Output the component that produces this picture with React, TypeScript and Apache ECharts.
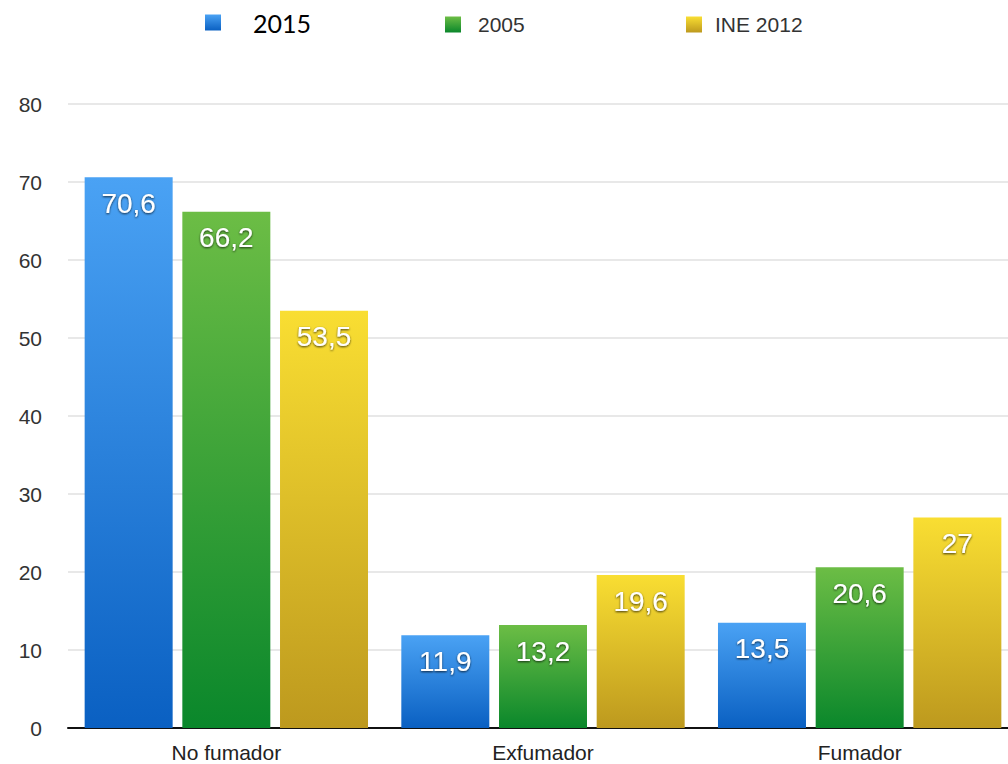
import React, { useEffect, useRef } from "react";
import * as echarts from "echarts";

const categories = ["No fumador", "Exfumador", "Fumador"];
const seriesNames = ["2015", "2005", "INE 2012"];
const values2015 = [70.6, 11.9, 13.5];
const values2005 = [66.2, 13.2, 20.6];
const valuesINE2012 = [53.5, 19.6, 27];

const grad = (top: string, bottom: string) =>
  new echarts.graphic.LinearGradient(0, 0, 0, 1, [
    { offset: 0, color: top },
    { offset: 1, color: bottom },
  ]);

export default function App() {
  const ref = useRef<HTMLDivElement>(null);
  useEffect(() => {
    if (!ref.current) return;
    const chart = echarts.init(ref.current, undefined, { renderer: "svg" });
    const colors = [
      grad("#4aa2f4", "#0a60c2"),
      grad("#6cbd45", "#0a872b"),
      grad("#f9de32", "#bd991e"),
    ];
    const dataSets = [values2015, values2005, valuesINE2012];
    const label = {
      show: true,
      position: "insideTop",
      distance: 12,
      color: "#ffffff",
      fontSize: 28,
      fontFamily: "Liberation Sans, Arial, sans-serif",
      textShadowColor: "rgba(0,0,0,0.75)",
      textShadowBlur: 2,
      textShadowOffsetX: 0,
      textShadowOffsetY: 1,
      formatter: (p: any) => String(p.value).replace(".", ","),
    };
    chart.setOption({
      animation: false,
      backgroundColor: "#ffffff",
      legend: [
        {
          data: [seriesNames[0]],
          left: 200,
          top: 5,
          icon: "rect",
          itemWidth: 16,
          itemHeight: 16,
          textStyle: { fontFamily: "Lato, sans-serif", fontSize: 25, color: "#000", padding: [2, 0, 0, 27] },
        },
        {
          data: [seriesNames[1]],
          left: 440,
          top: 9,
          icon: "rect",
          itemWidth: 16,
          itemHeight: 16,
          textStyle: { fontFamily: "Liberation Sans, Arial, sans-serif", fontSize: 21, color: "#333", padding: [0, 0, 0, 12] },
        },
        {
          data: [seriesNames[2]],
          left: 681,
          top: 9,
          icon: "rect",
          itemWidth: 16,
          itemHeight: 16,
          textStyle: { fontFamily: "Liberation Sans, Arial, sans-serif", fontSize: 21, color: "#333", padding: [0, 0, 0, 8] },
        },
      ],
      grid: { left: 68, top: 104, bottom: 36, width: 950, outerBoundsMode: "none", containLabel: false },
      xAxis: {
        type: "category",
        data: categories,
        axisLine: { lineStyle: { color: "#111", width: 2 } },
        axisTick: { show: false },
        axisLabel: { fontSize: 21, color: "#222", margin: 14, fontFamily: "Liberation Sans, Arial, sans-serif" },
      },
      yAxis: {
        type: "value",
        min: 0,
        max: 80,
        interval: 10,
        axisLine: { show: false },
        axisTick: { show: false },
        axisLabel: { fontSize: 21, color: "#333", margin: 26, fontFamily: "Liberation Sans, Arial, sans-serif" },
        splitLine: { lineStyle: { color: "#e8e8e8", width: 2 } },
      },
      series: seriesNames.map((name, i) => ({
        name,
        type: "bar",
        data: dataSets[i],
        barWidth: 88,
        barGap: "11%",
        itemStyle: { color: colors[i] },
        label,
      })),
    });
    return () => chart.dispose();
  }, []);
  return (
    <div
      ref={ref}
      style={{ position: "fixed", left: 0, top: 0, width: 1008, height: 764 }}
    />
  );
}
